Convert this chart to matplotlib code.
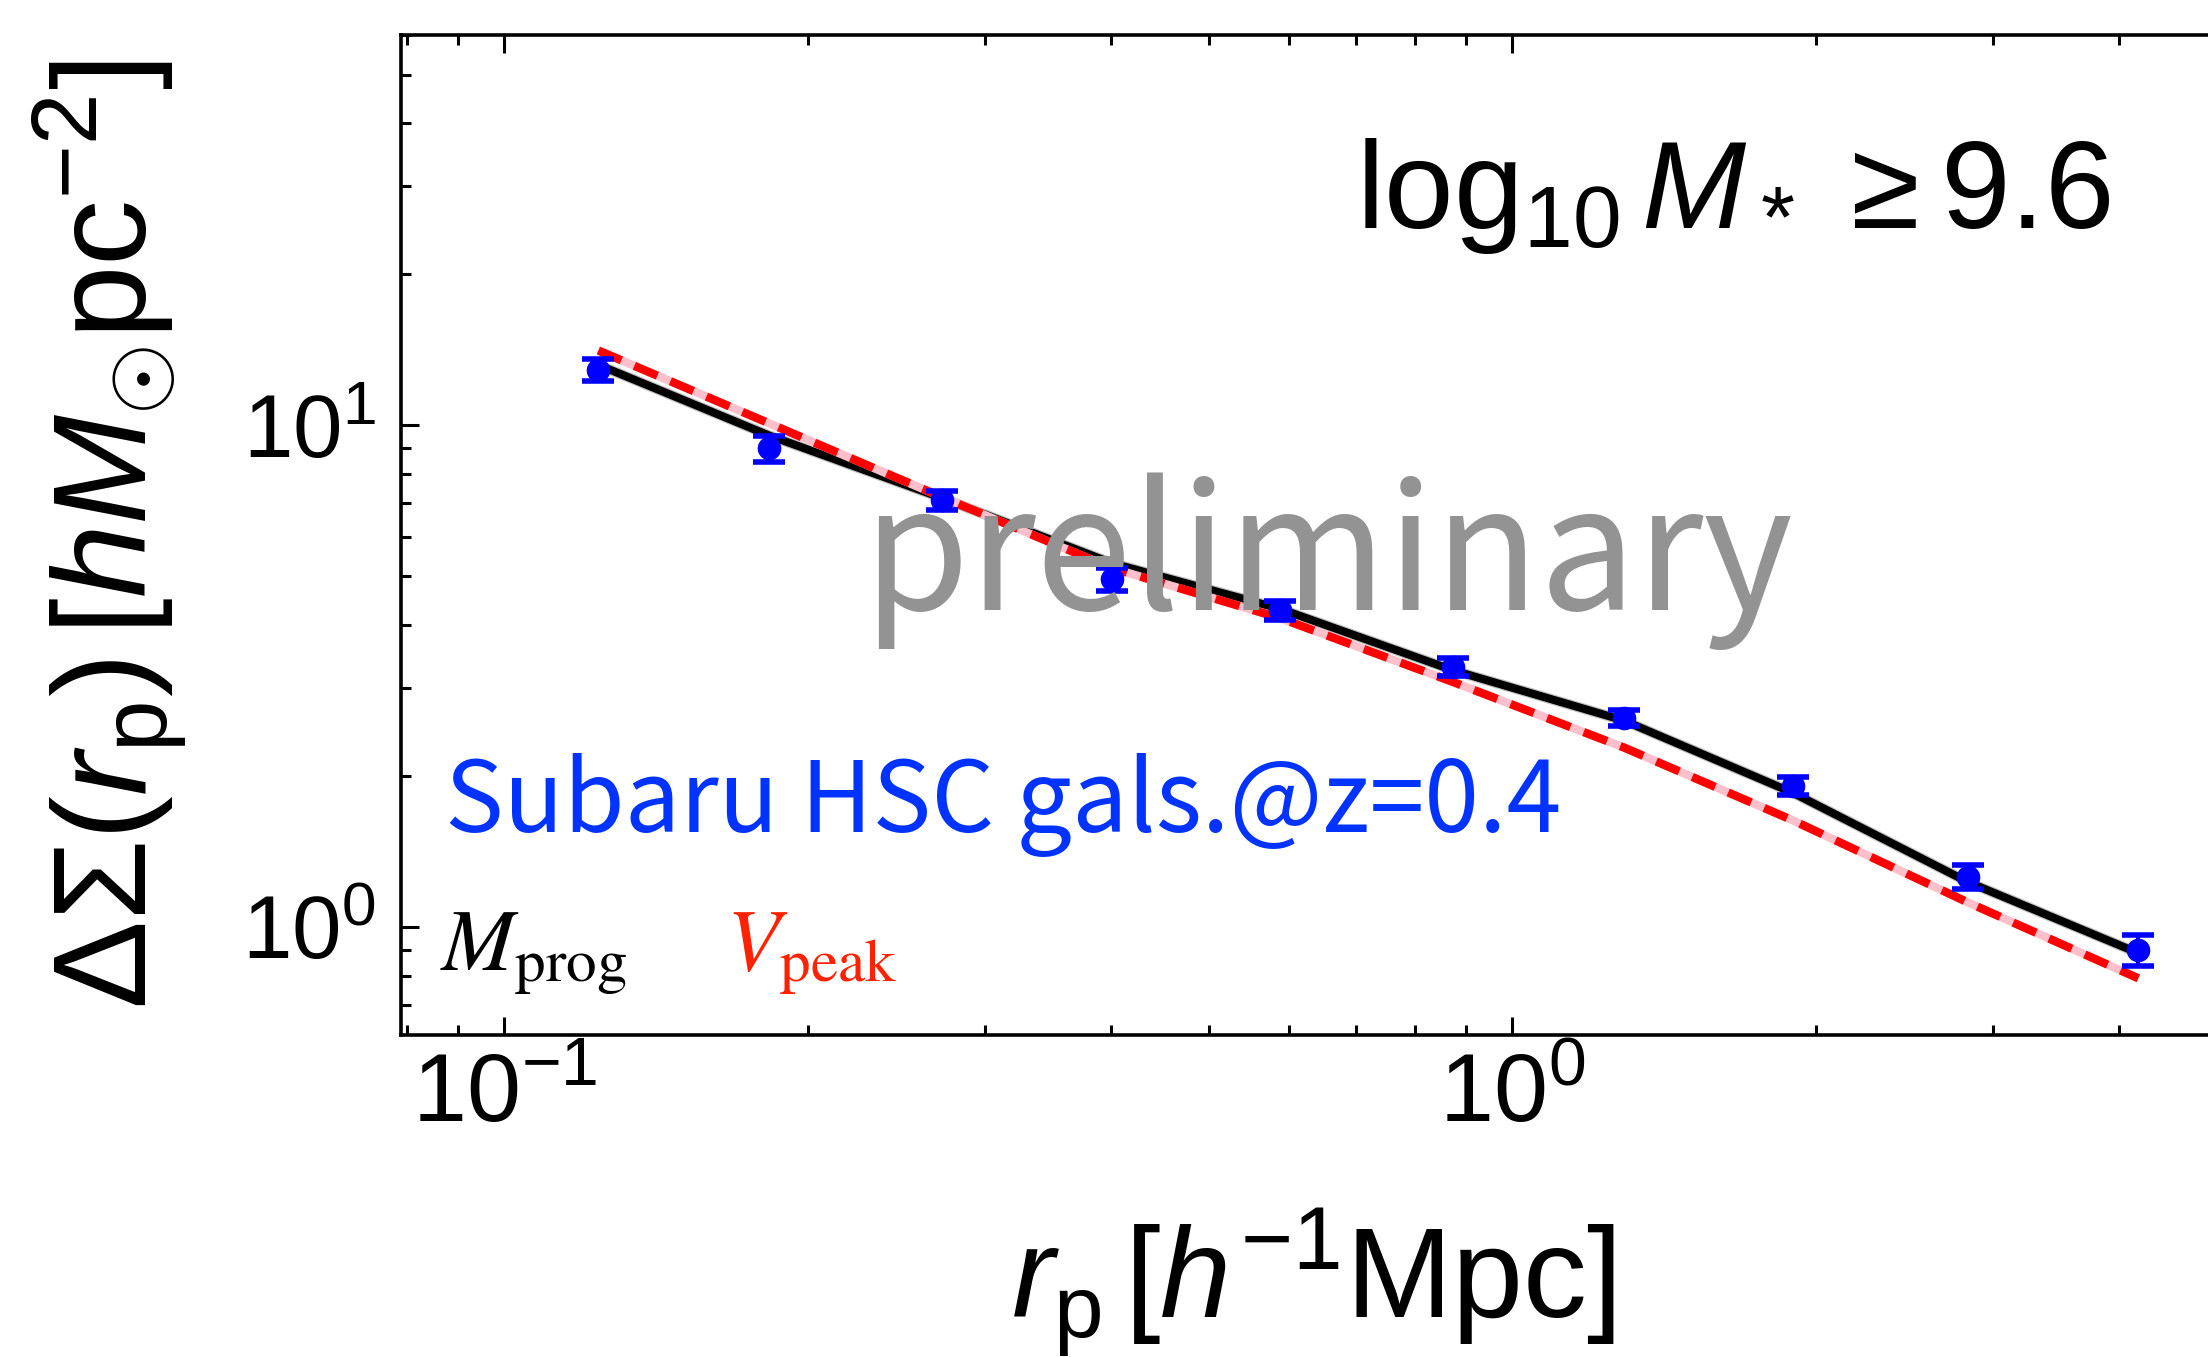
import numpy as np
import matplotlib
matplotlib.use("Agg")
import matplotlib.pyplot as plt

plt.rcParams['font.family'] = ['Liberation Sans', 'DejaVu Sans']
plt.rcParams['mathtext.fontset'] = 'custom'
plt.rcParams['mathtext.rm'] = 'Liberation Sans'
plt.rcParams['mathtext.it'] = 'Liberation Sans:italic'
plt.rcParams['mathtext.bf'] = 'Liberation Sans:bold'

# ---- data ----
rp = [0.124, 0.183, 0.272, 0.401, 0.588, 0.873, 1.29, 1.90, 2.83, 4.18]
obs = [12.9, 9.0, 7.09, 4.94, 4.28, 3.30, 2.61, 1.91, 1.26, 0.90]
obs_err = [0.67, 0.53, 0.30, 0.26, 0.18, 0.14, 0.098, 0.081, 0.071, 0.064]
model_mprog = [13.2, 9.55, 7.16, 5.31, 4.31, 3.25, 2.58, 1.85, 1.23, 0.887]
model_vpeak = [14.1, 10.1, 7.19, 5.19, 4.13, 3.08, 2.28, 1.63, 1.12, 0.79]

xlim = (0.079, 5.5)
ylim = (0.609, 60.0)

W, H = 2208, 1357
fig = plt.figure(figsize=(W / 100, H / 100), dpi=100)

left_px, top_px, bottom_px = 401, 35, 1035
dec_x = 1008.0
width_px = dec_x * np.log10(xlim[1] / xlim[0])
ax = fig.add_axes([left_px / W, 1 - bottom_px / H, width_px / W, (bottom_px - top_px) / H])
ax.set_xscale('log')
ax.set_yscale('log')
ax.set_xlim(*xlim)
ax.set_ylim(*ylim)

# model lines
ax.plot(rp, model_mprog, color='#777777', lw=7.5, alpha=0.45, solid_capstyle='butt', zorder=2)
ax.plot(rp, model_mprog, color='black', lw=5.8, solid_capstyle='butt', zorder=3)
ax.plot(rp, model_vpeak, color='#ffc0cb', lw=6.0, solid_capstyle='butt', zorder=4)
ax.plot(rp, model_vpeak, color='#ff0000', lw=6.0, dashes=(3.0, 1.7), dash_capstyle='butt', zorder=5)

# observed points
ax.errorbar(rp, obs, yerr=obs_err, fmt='o', color='#0000ff', ms=16, elinewidth=3,
            capsize=11.5, capthick=4, zorder=6)

# spines / ticks
for s in ax.spines.values():
    s.set_linewidth(2.6)
ax.tick_params(which='both', direction='in', top=True, right=True, width=2.2)
ax.tick_params(which='major', length=13)
ax.tick_params(axis='x', which='major', labelsize=70, pad=12)
ax.tick_params(axis='y', which='major', labelsize=64, pad=18)
ax.tick_params(which='minor', length=7.5)

ax.set_xticks([0.1, 1.0])
ax.set_yticks([1.0, 10.0])

# axis labels
fig.text(110 / W, 1 - 535 / H, r'$\Delta\Sigma(r_{\mathrm{p}})\,[hM_{\odot}\mathrm{pc}^{-2}]$',
         rotation=90, ha='center', va='center', fontsize=95)
fig.text(1313 / W, 1 - 1318 / H, r'$r_{\mathrm{p}}\,[h^{-1}\mathrm{Mpc}]$',
         ha='center', va='baseline', fontsize=92)

# annotations
fig.text(2110 / W, 1 - 228 / H, r'$\mathrm{log}_{10}\,M_*\,\geq 9.6$',
         ha='right', va='baseline', fontsize=90)
fig.text(1328 / W, 1 - 610 / H, 'preliminary', ha='center', va='baseline',
         fontsize=124, color='#939393', family=['Noto Sans CJK JP', 'DejaVu Sans'])
fig.text(445 / W, 1 - 832 / H, 'Subaru HSC gals.@z=0.4', ha='left', va='baseline',
         fontsize=71, color='#0033ff', family=['Noto Sans CJK JP', 'DejaVu Sans'])
fig.text(440 / W, 1 - 970 / H, r'$M_{\mathrm{prog}}$', ha='left', va='baseline',
         fontsize=63, color='black', math_fontfamily='stix')
fig.text(726 / W, 1 - 970 / H, r'$V_{\mathrm{peak}}$', ha='left', va='baseline',
         fontsize=63, color='#ff2200', math_fontfamily='stix')

fig.savefig('out.png', dpi=100)
